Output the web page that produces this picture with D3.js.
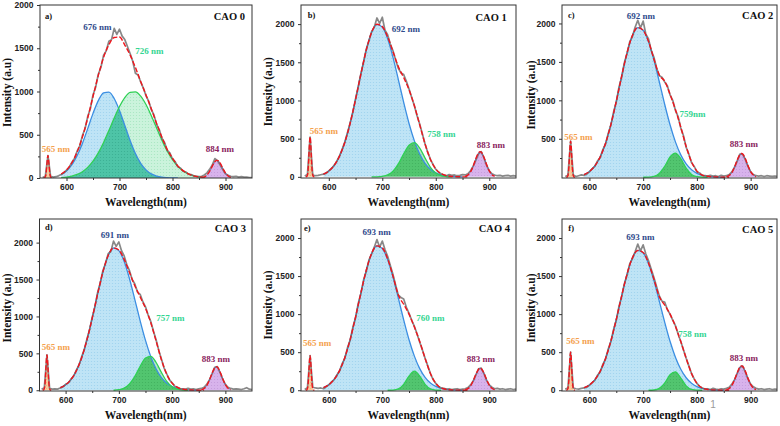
<!DOCTYPE html>
<html><head><meta charset="utf-8">
<script src="https://cdn.jsdelivr.net/npm/d3@7"></script>
<style>body{margin:0;background:#fff}svg{display:block}</style>
</head><body>
<svg id="chart" width="780" height="426"></svg>
<script>
// ---------- DATA ----------
const sampleNames = ["CAO 0","CAO 1","CAO 2","CAO 3","CAO 4","CAO 5"];
const panelTags = ["a)","b)","c)","d)","e)","f)"];
const xTicks = [600,700,800,900];
const xMinor = [650,750,850];
const yTicksFull = [0,500,1000,1500,2000];
const yTicksNoZero = [500,1000,1500,2000];
const yMinor = [250,750,1250,1750];

const labelsA = ["565 nm","676 nm","726 nm","884 nm"];
const labelsB = ["565 nm","692 nm","758 nm","883 nm"];
const labelsC = ["565 nm","692 nm","759nm","883 nm"];
const labelsD = ["565 nm","691 nm","757 nm","883 nm"];
const labelsE = ["565 nm","693 nm","760 nm","883 nm"];
const labelsF = ["565 nm","693 nm","758 nm","883 nm"];

// wavelength grids (nm)
const wlBroad = d3.range(590, 861, 10);      // 590..860
const wlMeasured = d3.range(555, 951, 5);    // 555..950
const wlLaser = [557,559,561,562,563,564,565,566,567,568,569,571,573];
const wlNir = [855,860,865,870,875,880,883,886,890,895,900,905,910];

// blue fitted component (on wlBroad)
const blueA = [41,82,152,258,400,571,747,895,985,993,919,780,607,433,283,170,94,47,22,9,4,1,0,0,0,0,0,0];
const blueB = [36,76,149,271,454,705,1013,1347,1659,1892,1997,1960,1807,1565,1274,974,699,471,299,178,99,52,26,12,5,2,0,0];
const blueC = [35,74,146,264,442,687,987,1314,1618,1844,1947,1911,1762,1526,1242,949,682,460,291,173,97,51,25,12,5,2,0,0];
const blueD = [35,73,144,261,438,680,977,1300,1601,1826,1927,1892,1744,1510,1229,940,675,455,289,172,96,50,25,12,5,2,0,0];
const blueE = [34,72,142,257,431,669,962,1280,1576,1797,1897,1862,1717,1487,1210,925,664,448,284,169,94,50,25,11,5,2,0,0];
const blueF = [33,70,137,249,418,648,932,1239,1526,1740,1837,1803,1663,1440,1172,896,643,434,275,164,91,48,24,11,5,2,0,0];

// green fitted component (on wlBroad)
const greenA = [5,11,22,41,73,123,195,291,411,549,693,826,930,990,995,946,849,720,578,438,313,212,135,82,47,25,13,6];
const greenB = [0,0,0,0,0,0,0,0,0,0,1,7,25,74,169,300,415,448,376,246,125,50,15,4,0,0,0,0];
const greenC = [0,0,0,0,0,0,0,0,0,0,0,0,2,11,49,141,263,314,241,118,37,8,1,0,0,0,0,0];
const greenD = [0,0,0,0,0,0,0,0,0,0,0,8,29,84,187,324,437,460,376,240,119,46,14,3,0,0,0,0];
const greenE = [0,0,0,0,0,0,0,0,0,0,0,0,0,2,17,77,186,250,186,77,17,2,0,0,0,0,0,0];
const greenF = [0,0,0,0,0,0,0,0,0,0,0,0,0,3,24,94,203,242,160,58,12,1,0,0,0,0,0,0];

// cumulative fit (on wlBroad)
const totalA = [46,93,174,299,473,694,942,1186,1396,1542,1625,1630,1537,1423,1278,1116,960,800,630,470,330,230,140,85,48,25,13,6];
const totalB = [36,76,149,271,454,705,1013,1347,1659,1892,1998,1967,1832,1639,1443,1300,1140,930,680,430,228,104,42,16,5,2,0,0];
const totalC = [35,74,146,264,442,687,987,1314,1618,1844,1947,1911,1764,1537,1330,1250,1080,880,650,400,200,80,28,12,5,2,0,0];
const totalD = [35,73,144,261,438,680,977,1300,1601,1826,1928,1900,1773,1594,1416,1264,1112,915,665,412,215,96,39,15,5,2,0,0];
const totalE = [34,72,142,257,431,669,962,1280,1576,1797,1897,1870,1725,1500,1250,1130,1000,830,640,420,220,90,30,10,3,1,0,0];
const totalF = [33,70,137,249,418,648,932,1239,1526,1740,1837,1810,1670,1460,1230,1120,1000,840,640,420,220,90,30,10,3,1,0,0];

// 565 nm line (on wlLaser)
const laserA = [0,3,35,84,158,229,260,229,158,84,35,3,0];
const laserB = [0,6,70,169,315,459,520,459,315,169,70,6,0];
const laserC = [0,5,64,153,285,415,470,415,285,153,64,5,0];
const laserD = [0,5,65,156,291,424,480,424,291,156,65,5,0];
const laserE = [0,5,62,148,276,402,455,402,276,148,62,5,0];
const laserF = [0,6,68,162,303,441,500,441,303,162,68,6,0];

// 883/884 nm band (on wlNir)
const nirA = [3,11,34,77,137,189,204,201,171,112,57,23,7];
const nirB = [7,23,65,142,240,315,330,315,258,161,78,29,9];
const nirC = [6,22,61,133,225,296,310,296,243,151,73,28,8];
const nirD = [6,23,63,138,232,306,320,306,251,156,76,28,8];
const nirE = [6,21,57,125,211,277,290,277,227,141,68,26,8];
const nirF = [6,23,63,138,232,306,320,306,251,156,76,28,8];

// measured spectra (on wlMeasured)
const measuredA = [5,20,260,20,10,15,25,40,60,
 90,125,180,225,310,370,490,570,710,800,960,
 1050,1200,1280,1420,1470,1580,1600,1730,1660,1720,
 1640,1600,1520,1440,1350,1210,1190,1110,1040,950,
 890,790,730,620,560,460,410,320,290,220,
 190,130,115,80,70,45,40,25,20,15,
 20,35,60,100,150,225,200,150,95,50,
 30,20,15,20,10,15,10,10,5,5];
const measuredB = [10,30,520,25,15,20,28,35,45,
 78,110,150,205,275,360,460,580,710,850,1020,
 1180,1350,1500,1670,1780,1900,1960,2080,2010,2090,
 1920,1860,1740,1650,1530,1420,1360,1340,1250,1150,
 1040,930,800,690,560,430,320,230,160,100,
 60,40,25,15,30,20,25,15,20,30,
 25,40,80,140,220,300,330,250,150,80,
 40,25,15,20,10,15,20,10,15,10];
const measuredC = [10,25,470,30,10,20,30,25,40,
 70,110,140,210,255,360,430,570,680,850,980,
 1170,1300,1490,1610,1760,1830,1950,2040,1940,2030,
 1860,1800,1650,1560,1420,1320,1300,1240,1190,1070,
 1000,870,790,640,540,390,300,190,140,70,
 55,25,20,15,25,15,20,10,25,15,
 20,35,70,130,210,300,300,230,140,70,
 35,20,15,20,10,20,15,10,15,10];
const measuredD = [15,30,480,25,15,20,15,30,45,
 80,100,150,190,270,340,450,550,690,820,990,
 1130,1320,1450,1620,1720,1850,1880,2020,1950,2010,
 1890,1820,1700,1620,1500,1440,1330,1300,1200,1130,
 1020,930,800,680,540,420,300,220,140,100,
 55,40,20,20,15,25,15,20,10,20,
 25,40,80,140,220,310,320,240,150,80,
 40,25,15,20,15,10,20,35,15,10];
const measuredE = [10,35,455,40,30,25,30,20,45,
 70,110,140,200,250,350,420,560,660,830,950,
 1140,1270,1450,1560,1710,1790,1880,1980,1880,1960,
 1850,1760,1640,1520,1380,1250,1220,1200,1090,1010,
 920,840,740,630,530,420,320,220,140,90,
 50,30,25,15,20,10,15,20,10,15,
 20,35,70,120,200,280,290,220,130,70,
 40,20,25,15,20,10,15,20,10,15];
const measuredF = [15,30,500,30,20,15,25,30,40,
 65,100,130,195,240,340,410,540,640,800,920,
 1100,1230,1400,1510,1660,1730,1820,1920,1830,1910,
 1790,1700,1590,1480,1360,1240,1170,1160,1060,1000,
 920,850,740,640,530,420,320,220,150,90,
 50,30,15,20,10,25,15,10,20,15,
 25,40,80,140,220,300,320,240,150,80,
 45,25,15,20,10,15,20,10,15,10];

// ---------- LAYOUT ----------
const layout = [
 {box:[40,252,5,178], xDom:[550,950], yDom:[0,2000], yTicks:yTicksFull, blue:blueA, green:greenA, total:totalA, laser:laserA, nir:nirA, meas:measuredA, labels:labelsA, style:"teal",
  lab:[[56,149],[97.5,26.5],[149.5,51],[220,149]], tag:[45,15.7], name:[245,16.5], ytitle:[7,92.5], xtitle:201.7},
 {box:[301,516,5,178], xDom:[548,950], yDom:[-15,2250], yTicks:yTicksFull, blue:blueB, green:greenB, total:totalB, laser:laserB, nir:nirB, meas:measuredB, labels:labelsB, style:"green",
  lab:[[323.8,131],[405.8,29],[441.3,134.3],[491,145]], tag:[307.7,15], name:[506.7,17], ytitle:[268,91.7], xtitle:201.7},
 {box:[562,777,5,178], xDom:[549,949], yDom:[-10,2240], yTicks:yTicksNoZero, blue:blueC, green:greenC, total:totalC, laser:laserC, nir:nirC, meas:measuredC, labels:labelsC, style:"green",
  lab:[[578.3,136.7],[641,16],[692.5,114],[744,144.3]], tag:[568,15], name:[773.3,15.5], ytitle:[530.5,95], xtitle:201.7},
 {box:[39.5,252,219,391], xDom:[551,950], yDom:[-10,2320], yTicks:yTicksFull, blue:blueD, green:greenD, total:totalD, laser:laserD, nir:nirD, meas:measuredD, labels:labelsD, style:"green",
  lab:[[55.8,347],[115,235.3],[170.5,318],[215.8,359]], tag:[45,227.5], name:[246,228.7], ytitle:[7,308], xtitle:414.7},
 {box:[301,516,219,391], xDom:[548,950], yDom:[-10,2250], yTicks:yTicksFull, blue:blueE, green:greenE, total:totalE, laser:laserE, nir:nirE, meas:measuredE, labels:labelsE, style:"green",
  lab:[[317.2,343],[376.7,232.3],[430.5,318],[480.8,359]], tag:[304,228], name:[510,228.7], ytitle:[268,305], xtitle:414.7},
 {box:[562,777,219,391], xDom:[549,949], yDom:[-10,2250], yTicks:yTicksFull, blue:blueF, green:greenF, total:totalF, laser:laserF, nir:nirF, meas:measuredF, labels:labelsF, style:"green",
  lab:[[580.5,341.3],[640.5,237],[692.5,334],[744,358.3]], tag:[568.3,228], name:[773.3,229], ytitle:[530.5,308], xtitle:414.7}
];
const labelColors = ["#f4a14e","#2f4a8c","#34d592","#8a1d5e"];
const serif = "'Liberation Serif','Times New Roman',serif";
const sans = "'Liberation Sans',Arial,sans-serif";

// ---------- DRAW ----------
const svg = d3.select("#chart");
const defs = svg.append("defs");
function pattern(id, bg, dot){
  const p = defs.append("pattern").attr("id",id).attr("width",3).attr("height",3).attr("patternUnits","userSpaceOnUse");
  p.append("rect").attr("width",3).attr("height",3).attr("fill",bg);
  p.append("circle").attr("cx",1.5).attr("cy",1.5).attr("r",0.6).attr("fill",dot);
}
pattern("pBlue","#bfe4f6","#9dd2ee");
pattern("pGreenLightA","#cbf3dc","#a6e5c0");
pattern("pTeal","#4ec4a7","#3aae92");
pattern("pGreenLight","#b6ebc3","#98dcaa");
pattern("pGreenDark","#52c56f","#40b05d");
pattern("pOrange","#fbc99b","#f3b27c");
pattern("pPurple","#d8b3ec","#c59bdc");

function pts(xs, ys){ return xs.map((x,i)=>({x:x, y:ys[i]})); }
function trim(arr){
  let a = arr.findIndex(d=>d.y>0), b = arr.length-1;
  while(b>0 && arr[b].y<=0) b--;
  if(a<0) return [];
  return arr.slice(Math.max(0,a-1), Math.min(arr.length,b+2));
}

layout.forEach((P, k) => {
  const [L,R,T,B] = P.box;
  const x = d3.scaleLinear().domain(P.xDom).range([L,R]);
  const y = d3.scaleLinear().domain(P.yDom).range([B,T]);
  const y0 = y(0);
  const g = svg.append("g");
  const cid = "clip"+k;
  defs.append("clipPath").attr("id",cid).append("rect").attr("x",L).attr("y",T).attr("width",R-L).attr("height",B-T);
  const plot = g.append("g").attr("clip-path","url(#"+cid+")");

  const area = d3.area().x(d=>x(d.x)).y0(y0).y1(d=>y(d.y)).curve(d3.curveMonotoneX);
  const line = d3.line().x(d=>x(d.x)).y(d=>y(d.y)).curve(d3.curveMonotoneX);

  const blue = trim(pts(wlBroad, P.blue));
  const green = trim(pts(wlBroad, P.green));
  const bclip = "bclip"+k;
  defs.append("clipPath").attr("id",bclip).append("path").attr("d",area(blue));

  plot.append("path").attr("d",area(blue)).attr("fill","url(#pBlue)");
  plot.append("path").attr("d",area(green)).attr("fill", P.style==="teal" ? "url(#pGreenLightA)" : "url(#pGreenLight)");
  plot.append("g").attr("clip-path","url(#"+bclip+")")
      .append("path").attr("d",area(green)).attr("fill", P.style==="teal" ? "url(#pTeal)" : "url(#pGreenDark)");
  plot.append("path").attr("d",line(blue)).attr("fill","none").attr("stroke","#3b8ee2").attr("stroke-width",1.3);
  plot.append("path").attr("d",line(green)).attr("fill","none").attr("stroke","#2fd055").attr("stroke-width",1.3);

  const laser = pts(wlLaser, P.laser);
  const nir = pts(wlNir, P.nir);
  plot.append("path").attr("d",area(laser)).attr("fill","url(#pOrange)");
  plot.append("path").attr("d",area(nir)).attr("fill","url(#pPurple)");

  // measured
  plot.append("path").attr("d", d3.line().x(d=>x(d.x)).y(d=>y(d.y))(pts(wlMeasured, P.meas)))
      .attr("fill","none").attr("stroke","#6a6a6a").attr("stroke-width",1.7).attr("stroke-opacity",0.8).attr("stroke-linejoin","round");
  plot.append("path").attr("d", d3.line().x(d=>x(d.x)).y(d=>y(d.y))(pts(wlNir, P.nir)))
      .attr("fill","none").attr("stroke","#5a5fa0").attr("stroke-width",1).attr("stroke-opacity",0.6);

  // fit lines
  [pts(wlBroad,P.total), laser, nir].forEach(s=>{
    plot.append("path").attr("d",line(s)).attr("fill","none").attr("stroke","#f0151c")
        .attr("stroke-width",1.4).attr("stroke-dasharray","5,2");
  });

  // axes
  const xa = g.append("g").attr("transform",`translate(0,${B})`)
      .call(d3.axisBottom(x).tickValues(xTicks).tickSize(3).tickPadding(3).tickFormat(d3.format("d")));
  const xm = g.append("g").attr("transform",`translate(0,${B})`)
      .call(d3.axisBottom(x).tickValues(xMinor).tickSize(2).tickFormat(""));
  const ya = g.append("g").attr("transform",`translate(${L},0)`)
      .call(d3.axisLeft(y).tickValues(P.yTicks).tickSize(3).tickPadding(3.5).tickFormat(d3.format("d")));
  const ym = g.append("g").attr("transform",`translate(${L},0)`)
      .call(d3.axisLeft(y).tickValues(yMinor).tickSize(2).tickFormat(""));
  [xa,xm,ya,ym].forEach(a=>{
    a.select(".domain").remove();
    a.selectAll("line").attr("stroke","#333");
    a.selectAll("text").attr("font-family",sans).attr("font-weight","bold").attr("font-size","8.5px").attr("fill","#222");
  });

  g.append("rect").attr("x",L).attr("y",T).attr("width",R-L).attr("height",B-T)
    .attr("fill","none").attr("stroke","#333").attr("stroke-width",1);

  // titles
  g.append("text").attr("x",(L+R)/2).attr("y",P.xtitle).attr("dy","0.35em").attr("text-anchor","middle")
    .attr("font-family",serif).attr("font-weight","bold").attr("font-size","11.5px").attr("fill","#111").text("Wavelength(nm)");
  g.append("text").attr("transform",`translate(${P.ytitle[0]},${P.ytitle[1]}) rotate(-90)`).attr("dy","0.35em")
    .attr("text-anchor","middle").attr("font-family",serif).attr("font-weight","bold").attr("font-size","11.5px")
    .attr("fill","#111").text("Intensity (a.u)");
  g.append("text").attr("x",P.tag[0]).attr("y",P.tag[1]).attr("dy","0.35em").attr("font-family",serif)
    .attr("font-weight","bold").attr("font-size","8.5px").attr("fill","#111").text(panelTags[k]);
  g.append("text").attr("x",P.name[0]).attr("y",P.name[1]).attr("dy","0.35em").attr("text-anchor","end")
    .attr("font-family",serif).attr("font-weight","bold").attr("font-size","10.5px").attr("fill","#111").text(sampleNames[k]);
  P.labels.forEach((t,i)=>{
    g.append("text").attr("x",P.lab[i][0]).attr("y",P.lab[i][1]).attr("dy","0.35em").attr("text-anchor","middle")
      .attr("font-family",serif).attr("font-weight","bold").attr("font-size","9px").attr("fill",labelColors[i]).text(t);
  });
});
// stray mark present in the source figure
svg.append("text").attr("x",713).attr("y",404).attr("dy","0.35em").attr("text-anchor","middle")
  .attr("font-family",sans).attr("font-size","10px").attr("fill","#9a9a9a").text("1");
</script>
</body></html>
